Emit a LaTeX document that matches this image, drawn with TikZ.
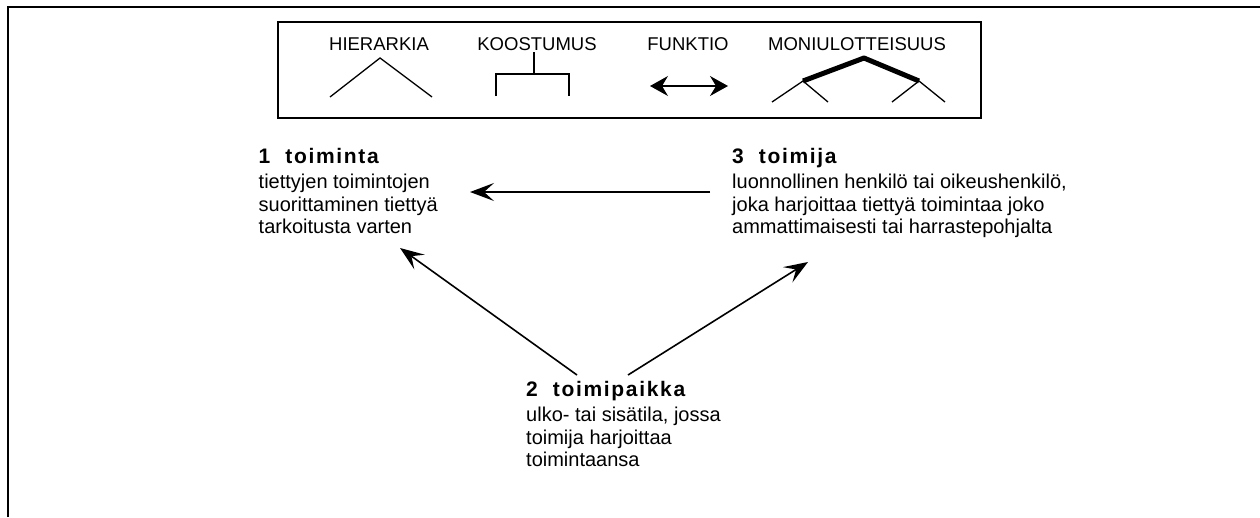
\documentclass[tikz,border=0pt]{standalone}
\usepackage{fontspec}
\setmainfont{Liberation Sans}
\usetikzlibrary{arrows.meta}
\newcommand{\conctitle}{\fontsize{21}{22.5}\selectfont\bfseries\addfontfeature{LetterSpace=8}}
\begin{document}
\begin{tikzpicture}[x=1pt,y=-1pt,
  frame/.style={line width=2.5pt},
  legendbox/.style={line width=2pt},
  sym/.style={line width=1.3pt},
  thicksym/.style={line width=5pt},
  conn/.style={line width=1.6pt,-{Stealth[length=24pt,width=18pt,inset=10pt]}},
  lab/.style={font=\fontsize{18.5}{18.5}\selectfont,anchor=base,inner sep=0pt},
  concept/.style={anchor=base west,inner sep=0pt,font=\fontsize{20}{22.5}\selectfont},
]
\useasboundingbox (0,0) rectangle (1260,517);
\fill[white] (0,0) rectangle (1260,517);
% outer frame
\draw[frame] (8,517) -- (8,7) -- (1260,7);
% legend box
\draw[legendbox] (278,22) rectangle (981,118);
\node[lab] (lh) at (379,50) {HIERARKIA};
\node[lab] (lk) at (537,50) {KOOSTUMUS};
\node[lab] (lf) at (688,50) {FUNKTIO};
\node[lab] (lm) at (857,50) {MONIULOTTEISUUS};
% hierarchy symbol
\draw[sym] (330,97) -- (380,58) -- (432,97);
% composition symbol
\draw[sym] (534,52) -- (534,74);
\draw[sym] (496,96) -- (496,74) -- (569,74) -- (569,96);
% function symbol
\draw[sym,{Stealth[length=18pt,width=20pt,inset=6pt]}-{Stealth[length=18pt,width=20pt,inset=6pt]}] (650,86) -- (728,86);
% multidimensionality symbol
\draw[thicksym,line join=round] (803,81) -- (864,58) -- (919,81);
\draw[sym] (772,102) -- (803,81) -- (828,102);
\draw[sym] (892,102) -- (919,81) -- (945,102);
% concepts
\node[concept] (n1) at (258.5,163) {\begin{tabular}[t]{@{}l@{}}\conctitle 1\hspace{15pt}toiminta\\[3pt]
tiettyjen toimintojen\\ suorittaminen tiettyä\\ tarkoitusta varten\end{tabular}};
\node[concept] (n3) at (732,163) {\begin{tabular}[t]{@{}l@{}}\conctitle 3\hspace{15pt}toimija\\[3pt]
luonnollinen henkilö tai oikeushenkilö,\\ joka harjoittaa tiettyä toimintaa joko\\ ammattimaisesti tai harrastepohjalta\end{tabular}};
\node[concept] (n2) at (526,396) {\begin{tabular}[t]{@{}l@{}}\conctitle 2\hspace{15pt}toimipaikka\\[3pt]
ulko- tai sisätila, jossa\\ toimija harjoittaa\\ toimintaansa\end{tabular}};
% connector end points
\coordinate (c3) at (710,192);
\coordinate (c1) at (470,192);
\coordinate (c2a) at (577,375);
\coordinate (c1b) at (400,248);
\coordinate (c2b) at (628,375);
\coordinate (c3b) at (808,262);
\draw[conn] (c3) -- (c1);
\draw[conn] (c2a) -- (c1b);
\draw[conn] (c2b) -- (c3b);
\end{tikzpicture}
\end{document}
